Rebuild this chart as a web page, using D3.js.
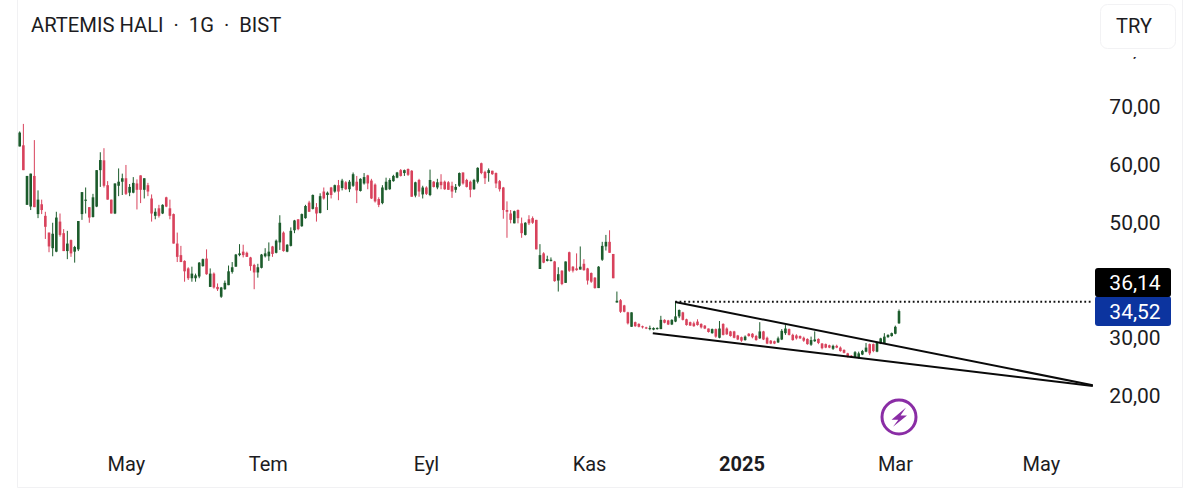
<!DOCTYPE html>
<html><head><meta charset="utf-8">
<script src="https://cdn.jsdelivr.net/npm/d3@7"></script>
<style>html,body{margin:0;padding:0;background:#fff;overflow:hidden}svg{display:block}text{font-family:Roboto,"Noto Sans",sans-serif}</style>
</head><body><svg id="c" width="1200" height="494"></svg>
<script>
const opens=[63,63.2,52.9,52.6,57.9,51.3,53,51,48.1,45.4,
44.8,50,48,44.9,46.8,44.8,45.2,51.3,53.6,52.5,
50.8,52.6,58.9,60.6,56.3,53.8,51.4,56.2,56.9,57.5,
55,55,56.6,58,55.5,56.3,54,51,52.3,51.4,
54.2,52.3,51.3,46.2,44.2,43.2,41.9,40.2,40.2,40.5,
42.3,43.6,38.7,41,38.7,37,38.3,39,41.3,42.2,
44.2,44.8,44.6,43.8,42.5,41.2,42,44,44,45.7,
44.6,46.4,48.1,44.8,45.8,48.5,50.4,49.2,50.6,53.3,
52.2,52.5,51.5,55.2,54.6,55.9,55.2,56.3,55.8,56.8,
55.6,56.2,56.9,55.3,56.6,58,57.1,56.4,53.9,53.2,
55.5,55.6,57,57.6,58.9,58.4,59.1,58.8,54.5,57.2,
54.7,55.9,54.6,56.9,55.9,56.9,56.9,56.8,56.2,55.5,
56.2,58.5,57.2,56.9,55.6,56.9,60.1,58.6,58.4,58.8,
58.4,57,55.9,52,51.4,49.7,52,49.7,47.7,50.4,
50.6,50.3,41.8,44.5,43.2,43.2,43.1,39.8,41.5,39.4,
44.7,42.2,41.9,41.7,42.7,41.9,41.1,40.3,38.5,43.4,
45.7,46.5,44.4,36,36.4,35.5,34.3,31.8,32.6,32.3,
31.9,31.7,31.4,31.3,31.4,31.4,33,32.9,32.2,32.7,
33.6,34.3,33.1,32.6,32.4,32.7,32.3,32,31.5,30.7,
31.4,29.9,32.3,31.5,31,31,30.3,30,29.5,30.6,
30.6,30.2,29.8,31,29.9,29.4,29.3,29.1,29.6,30.7,
31.4,30.4,30.3,30.2,29.9,29.7,28.7,29.3,29.7,28.9,
28.8,28.6,28,28.5,28.2,27.8,27.2,26.8,26.5,26.5,
27,27.5,28.8,28.8,27.5,28.9,29,30,30.2,30.6,32.4];
const highs=[65.6,66.9,57.9,58.3,64.1,55.4,53.8,51.7,48.1,49.8,
51.7,51.4,48.7,48.4,46.9,45.8,50.1,55.1,55.9,52.5,
54.8,58.9,62,62.7,57,53.8,56.6,59.2,58.3,59.8,
56.5,57.7,57.3,58,57.5,56.7,54.7,52.3,52.9,53,
54.3,53.8,51.4,48.1,45.8,43.3,42.1,42.2,41,43,
43.6,45.2,41.9,41.2,39.3,38.7,39.8,42.4,43,44.4,
46.1,46,44.8,43.9,42.7,42.7,44.4,45.4,46.4,45.8,
46.9,51.1,48.3,46.1,49,50.3,50.4,51.4,52.9,53.6,
54.7,53.2,54.9,55.9,55.2,56,56.4,57.2,57.4,57,
57.2,58.5,57.9,57.5,58.4,58.1,57.4,56.6,54.2,56.3,
57.6,57.5,58.1,58.6,59.1,59,59.2,58.9,56.9,57.4,
56.2,56.1,59,57,57.4,58.2,57.1,57,56.9,56.5,
58.5,58.5,57.4,57.1,57.4,59.4,60.2,58.8,59.2,58.8,
58.5,57.2,56,53.5,52,51.9,52.1,50.7,49.9,51.1,
50.9,50.3,46.1,44.7,44.1,43.8,43.2,42.1,41.6,43.1,
44.8,42.3,44.5,45.7,43.5,42,41.2,40.4,42.3,46.5,
47.7,48.5,44.4,37.9,36.6,35.6,34.4,34.3,32.7,32.4,
32,31.8,32,31.7,31.7,33.7,33.1,33,33.1,36.1,
34.8,34.4,33.2,32.7,32.7,33.1,32.4,32.1,31.5,31.5,
31.5,32.8,32.4,31.7,31.1,31.1,30.4,30.1,30.3,30.7,
30.7,30.4,32.6,31.1,30.1,29.5,29.4,30.1,31.4,32.1,
31.5,30.6,30.5,30.3,30.1,29.8,30.1,31,29.8,29,
28.9,28.7,28.7,28.7,28.4,27.9,27.3,26.9,27.6,27.5,
27.8,29,28.9,28.9,29.2,29.9,30.7,30.5,30.8,32,34.8];
const lows=[63,58.9,52.9,52,52.5,50.6,51.3,47,44.7,44,
44.7,47.4,44.9,43.5,43.9,42.9,44.9,50.3,51.4,49.8,
50.7,52.5,56,55.9,53.8,51.4,51.3,54.4,54.6,54.6,
54.4,54.9,52.1,53.2,54,54.4,50,50.4,50.7,51.3,
52.5,50.4,46.2,43,43,39.6,39.9,39.6,39.6,40.2,
42.2,40.8,38.7,38.4,38,36.8,38.2,39,41,42.2,
44,43.8,43.9,41.5,38.3,40.3,41.9,43.8,43.2,43.9,
44.5,45.1,44.8,44.7,45.7,48,48.5,49.1,50.5,51.7,
52.1,50,51.4,53.8,52,54,55,53.7,55.4,55.5,
55.1,56,53.2,55.2,56.4,55.6,53.9,53.3,52.5,53,
55.4,55.5,56.9,57.5,57.8,57.9,57.9,54.3,54.2,54.3,
54,54.6,54.4,55.9,55.6,55.6,55.5,55.5,54.1,55,
56,56.4,55.9,54.2,55.5,56.6,58.2,56.5,56.9,58.1,
55.8,55.2,50.5,47.2,49.7,49.7,49.7,47.2,47.6,49.4,
49.6,45.2,41.8,42.8,43.1,43.1,39.6,37.9,39,39.4,
41.3,41.2,41.5,41.7,41.5,39.1,39.4,38.4,38.5,43.2,
45,44.6,40.2,36,34.2,34.3,32.2,31.8,31.8,31.7,
31.5,31.4,31.2,31.2,31.3,31.4,32.4,32.1,32.1,32.6,
33.3,32.9,32,32,31.8,32,31.5,31.4,30.8,30.6,
29.9,29.8,30.3,30.4,30.1,29.8,29.5,29.2,29.4,30.1,
29.8,29.4,29.7,29.5,28.8,28.8,28.8,29,29.5,30.4,
30.3,29.4,29.6,29.7,29.2,28.7,28.5,29.2,28.8,27.9,
28.1,28.1,27.8,28.1,27.5,27.2,26.5,26.4,26.4,26.3,
26.9,27.4,26.9,27.4,27.4,28.8,28.9,29.9,30.1,30.5,32.3];
const closes=[65.4,58.9,57.9,58.3,52.5,53.8,52,49.1,45.7,47.9,
50.7,47.7,44.9,46.2,44.5,45.6,50.1,55.1,53.8,50.7,
54.2,58.9,60.65,56.2,53.8,51.4,56.6,56.9,57.5,54.8,
56,56.7,55.5,55.5,57.5,55.2,51.4,51.7,51,52.9,
52.6,51,46.2,43.9,43,41.4,40.2,41,40.7,42.9,
43.5,40.9,41,38.6,38.3,38.6,39.4,41.4,42.1,44.3,
44.5,44.2,43.9,42.3,41.2,42.1,44.3,44.5,44.8,44.4,
46.7,49.8,44.9,46,48.4,50.2,48.7,51.3,52.7,51.7,
54.6,51.4,54.4,54,55,54.6,56.3,55.2,57.1,55.6,
56.9,58.2,55.4,57.4,57.7,56.6,54,53.5,52.9,55.9,
56.9,57.2,57.9,58.5,57.9,58.9,58.1,54.3,56.8,55.2,
55.9,54.8,57.2,56,56.8,56.3,55.6,55.5,55.2,56,
58.4,56.6,56,55.5,57.2,59.3,58.4,57.5,58.9,58.2,
56.6,55.6,52,51.7,50.3,51.8,50.6,48,49.8,49.7,
49.8,45.2,44.2,42.9,43.5,43.4,39.7,40.9,39.2,43.1,
41.5,41.5,41.6,42.2,41.6,39.8,39.6,38.5,42.2,45.8,
46.5,44.6,40.2,36.3,34.4,34.4,32.4,34.3,31.9,31.8,
31.7,31.5,31.6,31.6,31.6,33,32.5,32.2,33,33.6,
34.7,33,32.1,32,31.9,32.1,31.7,31.5,30.9,31.4,
30.1,31.5,30.4,30.5,30.2,29.9,29.6,29.4,30.1,30.2,
30,29.5,31,29.6,28.9,28.9,28.9,29.8,31.1,31.5,
30.4,29.5,29.8,29.8,29.4,28.8,29.5,29.6,29,28.1,
28.2,28.2,28.5,28.2,27.6,27.3,26.6,26.5,27.4,27.2,
27.6,28.2,27.2,27.6,29.1,29.8,30.1,30.4,30.7,31.8,34.52];

const monthLabels=["May","Tem","Eyl","Kas","2025","Mar","May"];
const monthIndex=[29,67.7,110.9,155.4,197,238.9,278.7];
const priceTicks=[80,70,60,50,30,20];
const lastHigh=36.14, lastClose=34.52;
const upperTrend=[[178.9,36.1],[292.9,21.7]];
const lowerTrend=[[172.8,30.7],[292.9,21.55]];
const dottedFrom=178.9, dottedTo=292.6;

const fmt=v=>d3.format(".2f")(v).replace(".",",");
const UP="#1c5c2c", DOWN="#d8425c", INK="#1c1c22";
const svg=d3.select("#c");
const x=d3.scaleLinear().domain([0,240]).range([19.7,899]);
const y=d3.scaleLinear().domain([20,70]).range([395,106]);

// frame
svg.append("path").attr("d","M17.5,0V487.5H1182.5V0").attr("fill","none").attr("stroke","#f1f1f3").attr("stroke-width",1);

// price axis
const yAxis=d3.axisRight(y).tickValues(priceTicks).tickFormat(fmt).tickSize(0).tickPadding(0);
const yg=svg.append("g").attr("transform","translate(1135,0)").call(yAxis);
yg.select(".domain").remove();
yg.selectAll("text").attr("text-anchor","middle").attr("font-size",21).attr("fill",INK).attr("dy","0.36em").attr("x",0);

// time axis
const xAxis=d3.axisBottom(x).tickValues(monthIndex).tickFormat((d,i)=>monthLabels[i]).tickSize(0).tickPadding(0);
const xg=svg.append("g").attr("transform","translate(0,464)").call(xAxis);
xg.select(".domain").remove();
xg.selectAll("text").attr("font-size",20).attr("fill",INK).attr("dy","0.36em")
  .attr("font-weight",(d,i)=>monthLabels[i]==="2025"?700:400);

// candles
const idx=d3.range(opens.length);
const col=i=>closes[i]>=opens[i]?UP:DOWN;
const cg=svg.append("g");
cg.selectAll("line.w").data(idx).join("line").attr("class","w")
  .attr("x1",i=>x(i)).attr("x2",i=>x(i)).attr("y1",i=>y(highs[i])).attr("y2",i=>y(lows[i]))
  .attr("stroke",col).attr("stroke-width",1);
cg.selectAll("rect").data(idx).join("rect")
  .attr("x",i=>x(i)-1.3).attr("width",2.6)
  .attr("y",i=>y(Math.max(opens[i],closes[i])))
  .attr("height",i=>Math.max(1,Math.abs(y(opens[i])-y(closes[i]))))
  .attr("fill",col);

// trend lines
const tl=d3.line().x(d=>x(d[0])).y(d=>y(d[1]));
[upperTrend,lowerTrend].forEach(t=>svg.append("path").attr("d",tl(t)).attr("fill","none").attr("stroke","#0a0a0a").attr("stroke-width",2));
svg.append("line").attr("x1",x(dottedFrom)).attr("x2",x(dottedTo)).attr("y1",y(lastHigh)).attr("y2",y(lastHigh))
  .attr("stroke","#111").attr("stroke-width",2).attr("stroke-dasharray","1.8 2.6");

// price tags
function tag(v,fill,top,bot,ty){
  svg.append("rect").attr("x",1095).attr("y",top).attr("width",76).attr("height",bot-top).attr("rx",3).attr("fill",fill);
  svg.append("text").attr("x",1135).attr("y",ty).attr("text-anchor","middle").attr("dy","0.36em")
    .attr("font-size",21).attr("fill","#fff").text(fmt(v));
}
tag(lastClose,"#0c349f",296,326,311);
tag(lastHigh,"#000",268,297,282.5);

// header
svg.append("rect").attr("x",18).attr("y",0).attr("width",1164).attr("height",57).attr("fill","#fff");
svg.append("path").attr("d","M17.5,0V57M1182.5,0V57").attr("stroke","#f1f1f3");
svg.append("text").attr("x",31).attr("y",25).attr("dy","0.36em").attr("font-size",20.2).attr("fill",INK).attr("xml:space","preserve")
  .text("ARTEMIS HALI  ·  1G  ·  BIST");
svg.append("rect").attr("x",1100.5).attr("y",4.5).attr("width",75).attr("height",44).attr("rx",7).attr("fill","#fff").attr("stroke","#f2f2f4");
svg.append("text").attr("x",1134).attr("y",26).attr("dy","0.36em").attr("text-anchor","middle").attr("font-size",20).attr("fill",INK).text("TRY");

// lightning marker
const m=svg.append("g").attr("transform","translate(899,417)");
m.append("circle").attr("r",17).attr("fill","#fff").attr("stroke","#8a2da5").attr("stroke-width",3);
m.append("path").attr("d","M7,-9.5L-7.5,2.7H-0.7L-6,9.7L8,-1.6H1.5Z").attr("fill","#8a2da5");
</script></body></html>
